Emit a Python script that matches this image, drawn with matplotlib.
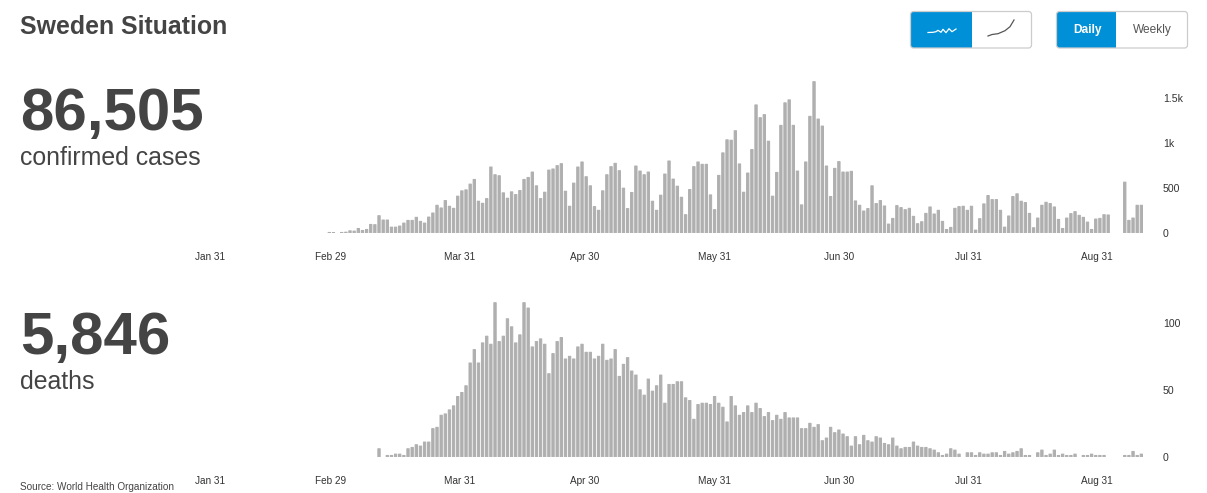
import numpy as np
import pandas as pd
import matplotlib
matplotlib.use("Agg")
import matplotlib.pyplot as plt
from matplotlib.patches import FancyBboxPatch, Rectangle

plt.rcParams['font.family'] = ['Liberation Sans', 'DejaVu Sans']

# ---- data ----
tick_labels = ["Jan 31", "Feb 29", "Mar 31", "Apr 30", "May 31", "Jun 30", "Jul 31", "Aug 31"]
tick_dates = ["2020-01-31", "2020-02-29", "2020-03-31", "2020-04-30",
              "2020-05-31", "2020-06-30", "2020-07-31", "2020-08-31"]

cases = [4, 1, 0, 4, 7, 22, 19, 48, 26, 37, 93, 90, 190, 142, 142, 63, 63, 75, 108, 138,
         138, 172, 127, 108, 175, 220, 306, 276, 358, 295, 272, 407, 466, 477, 541, 593, 351, 328, 380, 731,
         645, 634, 444, 384, 455, 425, 470, 593, 615, 675, 522, 380, 451, 697, 709, 746, 768, 462, 295, 552,
         731, 787, 623, 522, 291, 250, 466, 645, 735, 772, 690,
         496, 269, 448, 742, 686, 645, 675, 351, 250, 418, 653, 798, 597, 518, 395, 201, 481, 735, 787, 761,
         761, 421, 257, 638, 888, 1033, 1029, 1134, 765, 451, 664, 925, 1421, 1279, 1313, 1018, 407, 671, 1194, 1444,
         1477, 1194, 686, 310, 787, 1294, 1679, 1264, 1186, 742, 403, 716, 791, 675, 675, 683, 354, 306, 242, 269,
         522, 325, 358, 298, 97, 160, 302, 280, 257, 272, 183, 101,
         123, 216, 287, 209, 250, 127, 37, 60, 272, 291, 295, 250, 295, 30, 157, 321, 414, 369, 369, 250,
         63, 187, 403, 433, 351, 336, 216, 56, 164, 306, 339, 325, 287, 149, 48, 164, 213, 235, 194, 172,
         119, 37, 153, 160, 201, 198, 0, 0, 0, 563, 138, 164, 306, 306]

deaths = [6, 0, 1, 1, 2, 2, 1, 6, 7, 9, 8, 11, 11, 21, 22, 31, 32, 35, 38, 45,
          48, 53, 70, 80, 70, 85, 90, 84, 115, 86, 90, 103, 97, 85, 91, 115, 111, 82, 86, 88,
          84, 62, 77, 86, 89, 73, 75, 73, 82, 84, 78, 78, 73, 75, 84, 72, 73, 80, 60, 69,
          74, 64, 61, 50, 46, 58, 49, 53,
          61, 40, 54, 54, 56, 56, 44, 42, 28, 39, 40, 40, 39, 45, 40, 37, 26, 45, 38, 31,
          33, 38, 33, 40, 36, 30, 33, 27, 31, 28, 33, 29, 29, 29, 21, 21, 25, 22, 24, 12,
          14, 22, 18, 20, 17, 15, 8, 15, 9, 16, 12, 11, 15, 14, 10, 9, 14, 8,
          6, 7, 7, 11, 8, 7, 7, 6, 5, 3, 1, 2, 6, 5, 2, 0, 3, 3, 1, 3,
          2, 2, 3, 3, 1, 4, 2, 3, 4, 6, 1, 1, 0, 3, 5, 1, 2, 5, 1, 2,
          1, 1, 2, 0, 1, 1, 2, 1, 1, 1, 0, 0, 0, 0, 1, 1, 4, 1, 2]

cases_yticks = [0, 500, 1000, 1500]
cases_ylabels = ["0", "500", "1k", "1.5k"]
deaths_yticks = [0, 50, 100]
deaths_ylabels = ["0", "50", "100"]

# ---- layout (pixels) ----
W, H = 1207, 493
BAR_COLOR = "#AFAFAF"
TEXT = "#444444"
BLUE = "#0090D8"
PX_PER_BAR = 4.143
AX_L, AX_R = 190, 1160
FIRST_CASE_PX = 329.3
DEATH_OFFSET = len(cases) - len(deaths)

fig = plt.figure(figsize=(W / 100, H / 100), dpi=100, facecolor="white")


def make_axes(top_px, base_px, per_unit):
    ax = fig.add_axes([AX_L / W, 1 - base_px / H, (AX_R - AX_L) / W, (base_px - top_px) / H])
    ax.set_xlim((AX_L - FIRST_CASE_PX) / PX_PER_BAR, (AX_R - FIRST_CASE_PX) / PX_PER_BAR)
    ax.set_ylim(0, (base_px - top_px) / per_unit)
    for s in ax.spines.values():
        s.set_visible(False)
    ax.yaxis.tick_right()
    ax.patch.set_alpha(0)
    return ax


def draw(ax, x, y, yticks, ylabels):
    x, y = np.asarray(x), np.asarray(y)
    keep = y > 0
    bars = ax.bar(x[keep], y[keep], width=0.56, color=BAR_COLOR, edgecolor=BAR_COLOR,
                  linewidth=0.72, joinstyle="round")
    for b in bars:
        b.set_snap(False)
    days = (pd.to_datetime(tick_dates) - pd.Timestamp("2020-02-29")).days.to_numpy()
    ax.set_xticks(0.4 + 1.005 * days)
    ax.set_xticklabels(tick_labels, fontsize=7.2, color="#333333")
    ax.set_yticks(yticks)
    ax.set_yticklabels(ylabels, fontsize=7.6, color="#333333")
    ax.tick_params(axis="x", length=0, pad=13.8)
    ax.tick_params(axis="y", length=0, pad=2.0)


ax1 = make_axes(75, 232.8, 0.09)
draw(ax1, np.arange(len(cases)), cases, cases_yticks, cases_ylabels)

ax2 = make_axes(295, 456.8, 1.34)
draw(ax2, np.arange(len(deaths)) + DEATH_OFFSET, deaths, deaths_yticks, deaths_ylabels)

# ---- overlay in pixel coordinates ----
ov = fig.add_axes([0, 0, 1, 1], zorder=5)
ov.set_xlim(0, W)
ov.set_ylim(H, 0)
ov.axis("off")

ov.text(20, 34, "Sweden Situation", fontsize=17.9, fontweight="bold", color=TEXT, va="baseline")
ov.text(20, 130, "86,505", fontsize=43.2, fontweight="bold", color=TEXT, va="baseline")
ov.text(20, 165, "confirmed cases", fontsize=17.9, color=TEXT, va="baseline")
ov.text(20, 354, "5,846", fontsize=43.2, fontweight="bold", color=TEXT, va="baseline")
ov.text(20, 389, "deaths", fontsize=17.9, color=TEXT, va="baseline")
ov.text(20, 490.5, "Source: World Health Organization", fontsize=7.2, color=TEXT, va="baseline")


def button_group(x0, x1, split, y0=11.5, y1=48):
    clip = FancyBboxPatch((x0, y0), x1 - x0, y1 - y0, boxstyle="round,pad=0,rounding_size=3",
                          fc="white", ec="none", transform=ov.transData)
    ov.add_patch(clip)
    fill = Rectangle((x0, y0), split - x0, y1 - y0, fc=BLUE, ec="none")
    ov.add_patch(fill)
    fill.set_clip_path(clip)
    ov.add_patch(FancyBboxPatch((x0, y0), x1 - x0, y1 - y0, boxstyle="round,pad=0,rounding_size=3",
                                fc="none", ec="#CCCCCC", lw=0.9))


button_group(910.5, 1031.5, 972)
button_group(1056.5, 1187.5, 1116)

icon_daily_x = [928, 933, 936, 938, 941, 943, 946, 949, 952, 956]
icon_daily_y = [32.5, 32.3, 31.7, 30.3, 32.3, 29.3, 32.7, 28.7, 31.7, 29]
ov.plot(icon_daily_x, icon_daily_y, color="white", lw=0.9)
icon_total_x = [988, 992, 998, 1005, 1010, 1014]
icon_total_y = [36, 34.5, 33.7, 30.7, 26.7, 20]
ov.plot(icon_total_x, icon_total_y, color="#555555", lw=0.9)

ov.text(1087, 30, "Daily", fontsize=8.6, fontweight="bold", color="white", ha="center", va="center")
ov.text(1152, 30, "Weekly", fontsize=8.6, color="#555555", ha="center", va="center")

fig.savefig("out.png", dpi=100)
